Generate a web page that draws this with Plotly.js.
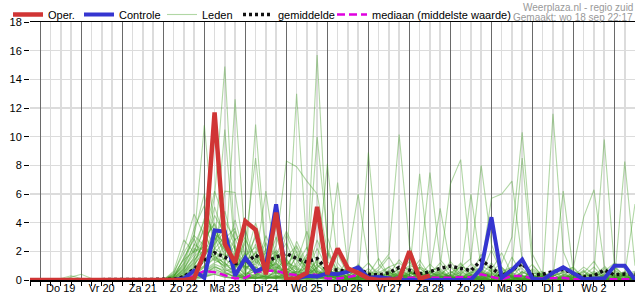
<!DOCTYPE html>
<html>
<head>
<meta charset="utf-8">
<script src="https://cdn.plot.ly/plotly-3.0.1.min.js"></script>
<style>
html,body{margin:0;padding:0;background:#fff;}
#chart{width:635px;height:300px;}
</style>
</head>
<body>
<div id="chart"></div>
<script>
// ---- time axis (6-hourly steps starting 18 Sep 18:00) ----
var startTime = '2024-09-18T18:00:00';
var stepHours = 6;
var nSteps = 60;
var xRange = ['2024-09-18 18:00', '2024-10-03 12:00'];
var dayStarts = ['2024-09-19','2024-09-20','2024-09-21','2024-09-22','2024-09-23','2024-09-24','2024-09-25',
  '2024-09-26','2024-09-27','2024-09-28','2024-09-29','2024-09-30','2024-10-01','2024-10-02','2024-10-03'];
var dayNoons = ['2024-09-19 12:00','2024-09-20 12:00','2024-09-21 12:00','2024-09-22 12:00','2024-09-23 12:00',
  '2024-09-24 12:00','2024-09-25 12:00','2024-09-26 12:00','2024-09-27 12:00','2024-09-28 12:00',
  '2024-09-29 12:00','2024-09-30 12:00','2024-10-01 12:00','2024-10-02 12:00'];
var dayLabels = ['Do 19','Vr 20','Za 21','Zo 22','Ma 23','Di 24','Wo 25','Do 26','Vr 27','Za 28','Zo 29','Ma 30','Di 1','Wo 2'];
var yTicks = [0,2,4,6,8,10,12,14,16,18];

// ---- series ----
var oper = [0,0,0,0,0,0,0,0,0,0, 0,0,0,0,0,0,0.1,1.9,11.7,2.5,
  1.2,4.1,3.5,0.4,4.7,0.05,0.1,0.5,5.1,0.4, 2.2,0.8,0.5,0.1,0,0,0.05,2.0,0.1,0.3];
var controle = [0,0,0,0,0,0,0,0,0,0, 0,0,0,0,0,0.1,0.65,0.15,3.46,3.38,
  0.3,1.55,0.6,0.9,5.28,0,0.1,0.3,0.25,0.46, 0.4,0.58,0.88,0.16,0.2,0.1,0,0,0,0,
  0,0,0,0,0.8,4.38,0.16,0.69,1.43,0.1, 0,0.5,0.88,0.46,0.05,0.1,0.1,0.99,1.0,0];
var gemiddelde = [0,0,0,0.02,0.03,0.02,0,0,0,0, 0,0,0,0,0.05,0.23,0.76,1.38,1.9,1.6,
  1.15,1.15,1.73,1.27,1.6,1.85,1.5,1.25,1.5,0.69, 0.69,0.6,0.85,0.4,0.35,0.5,0.88,0.69,0.42,0.58,
  0.81,0.97,0.78,0.65,1.38,0.88,0.25,0.69,1.15,0.35, 0.4,0.58,0.74,0.46,0.23,0.3,0.69,0.35,0.42,0.4];
var mediaan = [0,0,0,0,0,0,0,0,0,0, 0,0,0,0,0,0,0.3,0.62,0.55,0.35,
  0.1,0.15,0.55,0.65,0.65,0.42,0.35,0.45,0.35,0.1, 0.1,0.2,0.35,0.15,0.15,0.15,0.15,0.1,0.1,0.1,
  0.1,0.15,0.2,0.2,0.4,0.2,0.05,0.28,0.28,0.1, 0.1,0.15,0.15,0.05,0.05,0.05,0.05,0.05,0.05,0.05];

var lid01 = [0,0,0,0,0,0,0,0,0,0, 0,0,0,0,0.2,1.5,2.8,10.8,3.0,1.2, 0.4,0,0.3,1.1,0.2,0,0.5,0.1,0,0.3, 0.1,0,0,0.2,0.6,0,0,0.3,0.1,0, 0,0.4,1.2,0.3,0,0.2,0,0,0.6,0.1, 0,0,0.3,0.8,0.1,0,0,0.2,0,0];
var lid02 = [0,0,0,0.1,0.3,0.1,0,0,0,0, 0,0,0,0,0,0.4,1.0,2.2,5.8,14.9, 2.0,0.6,0.2,0,0.8,1.5,0.4,0,0.1,0, 0,0.3,0.9,0.2,0,0,0,0.1,0.5,0, 0,0,0.2,0,0.4,2.1,0.5,0,0,0.3, 0.1,0,0,0,0.5,1.3,0.2,0,0,0.1];
var lid03 = [0,0,0,0,0.2,0.4,0.1,0,0,0, 0,0,0,0,0.1,0.8,2.0,3.5,1.4,1.0, 12.6,2.4,0.5,0.3,1.8,0.6,0,0,0.2,0.9, 0.2,0,0,0.4,1.5,0.3,0,0,0.1,0.6, 0.2,0,0,0.3,0,0,0.8,0.1,0,0, 0,0.2,0.9,0.3,0,0,0.4,1.0,0.2,0];
var lid04 = [0,0,0,0,0,0,0,0,0,0, 0,0,0,0,0,0.2,0.6,1.3,2.5,10.5, 1.8,0.9,10.85,2.0,0.5,0.2,0.6,1.8,0.4,0, 0,0.1,0.6,0,0,0,0.2,0.9,0.3,0, 0,0.1,0,0,0.5,0.2,0,0.4,1.5,0.2, 0,0,0,0.1,0.6,0,0,0,0.3,0.5];
var lid05 = [0,0,0,0,0,0,0,0,0,0, 0,0,0,0,0.3,1.0,3.2,6.0,2.1,6.2, 6.1,1.5,3.0,1.2,0.4,0.9,13.0,2.2,0.6,0.3, 0.1,0,0.2,0.8,0.1,0,0,0,0.4,0.2, 0,0,0.3,0,0,0.1,0.6,0.2,0,0, 0.2,0,0,0.4,0.1,0,0,0,0,0.2];
var lid06 = [0,0,0,0,0,0,0,0,0,0, 0,0,0,0,0,0.2,0.5,1.0,1.8,0.6, 0.9,2.6,8.5,1.9,0.3,0.1,0.2,1.0,15.7,2.2, 0.5,0,0,0.3,0.2,0,0.1,0.6,0,0, 0.1,0.3,0,0,0.2,0.8,0.1,0,0,0.4, 0.6,0,0,0,0,0.3,0.9,0.2,0,0];
var lid07 = [0,0,0,0,0,0,0,0,0,0, 0,0,0,0,0,0.6,1.2,2.8,4.0,2.2, 1.5,0.8,1.4,6.2,1.2,0.4,0.3,0.6,10.0,3.0, 0.8,0.2,0,0,0.1,0.5,0.2,0,0,0, 0.6,0.2,0,0.1,0,0,0,0.5,0.3,0, 0,0,0.2,0,0,0,0.1,0.6,0.3,0];
var lid08 = [0,0,0,0,0,0,0,0,0,0, 0,0,0,0,0.1,0.3,0.8,1.5,3.2,2.6, 1.0,0.4,0.6,0.9,2.4,8.3,7.9,6.9,6.0,2.0, 0.6,0.2,0.1,0,0,0,0.4,0.2,0,0, 0,0.2,0.7,0.1,0,0,0.3,0,0,0, 0.1,0.4,0,0,0,0.2,0,0,0,0.3];
var lid09 = [0,0,0,0,0,0,0,0,0,0, 0,0,0,0,0,0.1,0.4,1.0,2.2,3.0, 1.1,0.3,0.9,0.5,1.6,0.8,0.4,0.2,0.9,8.1, 1.2,0.3,0,0,0,0.2,0.8,0.3,0,0.1, 0,0,0,0.4,0.1,0,0,0,0.2,0.6, 0.1,11.6,2.0,0.3,0,0,0,0.1,0.4,0];
var lid10 = [0,0,0,0,0,0,0,0,0,0, 0,0,0,0,0,0,0.3,0.9,1.6,1.2, 0.5,0.2,1.3,0.6,0.2,1.0,2.0,0.8,0.3,1.1, 6.8,1.0,0.3,0,0,0.1,0,0,0.5,0.2, 0,0,0.2,0,0.1,0.5,0,0.1,0,0, 0.3,0,0,0.1,0.2,0.5,9.8,0.9,0,0];
var lid11 = [0,0,0,0,0,0,0,0,0,0, 0,0,0,0,0,0.2,0.6,1.4,2.0,1.0, 0.7,0.2,0.4,0.2,0.6,0.3,1.2,3.4,1.0,0.5, 0.3,1.5,6.0,1.2,0.2,0,0,0,0.1,0, 0.2,0,0,0.6,0.3,0,0,0.4,0.1,0, 0,0,0,0.2,0.7,0.1,0,0,8.26,1.0];
var lid12 = [0,0,0,0,0,0,0,0,0,0, 0,0,0,0,0,0.1,0.2,0.6,1.1,0.8, 0.3,0.1,0.2,0.9,0.6,0.1,0,0.2,0.6,0.3, 0.2,0.3,0.1,8.9,1.1,0.3,0,0,0,0.2, 0,0.1,0,0,0.2,0.3,0,0,0,0.3, 0,0.2,0,0,0,0.1,0,0,0.4,5.3];
var lid13 = [0,0,0,0,0,0,0,0,0,0, 0,0,0,0,0,0,0.1,0.4,0.9,0.6, 0.2,0.5,0.3,0.1,0.2,0.4,0.3,0.1,0.2,0.4, 0.1,0,0.2,0.3,0.9,1.8,10.15,2.4,0.3,0.1, 0,0,0.1,0,0,0,0.3,0.2,0,0, 0,0,0.2,0.3,0,0,0,0.1,0,0];
var lid14 = [0,0,0,0,0,0,0,0,0,0, 0,0,0,0,0,0.1,0.3,0.7,1.2,1.5, 0.8,0.2,0.1,0.4,0.3,0.2,0.8,0.5,0.2,0.1, 0.3,0.1,0,0.2,0.5,0.9,1.2,0.6,7.4,0.8, 0.3,0,0,0.2,0.6,0.1,0,0,0,0.2, 0.5,0,0,0,0.2,0,0,0.1,0.3,0];
var lid15 = [0,0,0,0,0,0,0,0,0,0, 0,0,0,0,0,0.1,0.2,0.5,0.8,0.4, 0.6,1.0,0.5,0.2,0.1,0.3,0.6,0.2,0.4,0.2, 0.1,0.2,0.4,0.1,0,0.2,0.5,1.0,0.8,7.5, 1.4,0.6,0.2,0,0,0,0.1,0.3,0,0, 0,0,0.4,0,0,0,0.2,0,0,0.1];
var lid16 = [0,0,0,0,0,0,0,0,0,0, 0,0,0,0,0,0.2,0.4,0.9,1.5,0.9, 0.4,0.2,0.7,0.3,0.2,0.1,0.2,0.6,0.3,0.5, 0.2,0.1,0,0,0.1,0.3,0.2,0.4,0.9,0.6, 5.0,1.0,0.3,6.0,0.8,0.3,0.2,0,0.1,0, 0,0.3,0.6,0,0,0.1,0,0,0,0];
var lid17 = [0,0,0,0,0,0,0,0,0,0, 0,0,0,0,0,0,0.2,0.6,1.0,0.5, 0.2,0.4,0.1,0.2,0.5,0.3,0.1,0,0.1,0.3, 0.2,0,0.1,0.4,0.2,0.1,0.3,0.5,0.2,0.6, 0.9,6.7,8.4,1.2,0.5,0.2,0.1,0.3,0.1,0, 0,0,0,0.4,0.2,0,0.3,0,0,0];
var lid18 = [0,0,0,0,0,0,0,0,0,0, 0,0,0,0,0,0.1,0.3,0.5,0.9,0.7, 0.5,0.1,0.3,0.2,0.1,0.6,0.4,0.2,0.3,0.1, 0.4,0.2,0.3,0.1,0,0.2,0.1,0.4,0.6,0.3, 0.2,0.5,0.9,1.5,8.0,2.5,0.6,0.3,0,0.1, 0,0,0.2,0,0.1,0,0,0.3,0.5,0];
var lid19 = [0,0,0,0,0,0,0,0,0,0, 0,0,0,0,0,0,0.1,0.3,0.6,0.4, 0.3,0.2,0.1,0.3,0.2,0.4,0.1,0.3,0.2,0.1, 0,0.1,0.2,0,0.1,0.3,0.2,0,0.1,0.3, 0.4,0.2,0.1,0.5,0.9,5.7,6.0,6.9,1.4,0.3, 0.2,0,0,0.2,0,0.1,0.3,0,0,0.2];
var lid20 = [0,0,0,0,0,0,0,0,0,0, 0,0,0,0,0,0.1,0.2,0.4,0.7,0.5, 0.2,0.1,0.4,0.2,0.1,0.2,0.3,0.1,0.2,0.4, 0.2,0,0.1,0.2,0.3,0.1,0,0.2,0.3,0.1, 0.2,0.3,0.1,0,0.3,0.6,1.2,3.0,10.3,1.8, 0.4,0.1,0,0,0.2,0,0,0,0.1,0];
var lid21 = [0,0,0,0,0,0,0,0,0,0, 0,0,0,0,0,0,0.1,0.2,0.5,0.3, 0.1,0.3,0.2,0.1,0.3,0.2,0.1,0.2,0.1,0.2, 0.1,0.2,0,0.1,0.2,0,0.1,0.2,0.1,0.4, 0.1,0,0.2,0.3,0.1,0.2,0.4,0.9,8.5,1.0, 0.3,0.2,6.2,0.5,0.1,0,0,0.2,0,0];
var lid22 = [0,0,0,0,0,0,0,0,0,0, 0,0,0,0,0,0,0,0.2,0.4,0.2, 0.1,0.2,0.1,0.3,0.1,0,0.2,0.1,0.3,0.1, 0,0.1,0.2,0.1,0,0.1,0.2,0,0.1,0.2, 0.3,0.1,0,0.2,0.1,0,0.2,0.1,0.3,0.2, 0.1,0.3,0.5,0.9,4.4,6.3,1.0,0.2,0.1,0];
var lid23 = [0,0,0,0,0,0,0,0,0,0, 0,0,0,0,0,0,0.1,0.3,0.4,0.2, 0.1,0,0.2,0.1,0.2,0.1,0,0.1,0.2,0, 0.1,0,0.1,0.2,0.1,0,0.3,0.1,0,0.2, 0.1,0.3,0.2,0,0.1,0.3,0,0.2,0.1,0.5, 0.2,0,0.1,0.3,0.2,0.4,0.6,1.2,0.8,0.3];
var lid24 = [0,0,0,0,0,0,0,0,0,0, 0,0,0,0,0.1,0.5,1.6,2.4,4.5,3.2, 2.2,1.1,2.5,0.8,3.0,1.2,0.9,0.5,2.8,1.0, 0.5,0.8,0.3,0.1,0,0.4,1.4,0.6,0.2,0, 0.4,0.9,0.2,0,1.0,0.6,0.1,1.6,0.3,0.1, 0,0.6,0.9,0.1,0,0,0.5,0.3,0.6,0.2];
var lid25 = [0,0,0,0,0,0,0,0,0,0, 0,0,0,0,0,0.3,0.9,3.0,6.2,4.1, 2.8,3.5,1.2,2.6,0.7,1.6,2.4,1.0,0.4,0.6, 1.8,0.4,0,0,0.3,0.9,0.2,0,0.8,0.3, 0,0,1.1,0.4,0.2,0,0.9,0.2,0,0.7, 0.2,0,0,0.6,0.3,0,0,0.7,0.2,0];
var lid26 = [0,0,0,0,0,0,0,0,0,0, 0,0,0,0,0.2,0.7,2.2,1.8,3.6,2.0, 3.4,1.4,4.0,1.5,2.0,0.6,0.2,1.5,0.8,0.2, 0.6,0.2,0.5,0,0.1,0.6,0,0.4,1.1,0.1, 0.5,0.2,0,0.8,0.4,0.2,0,0.5,1.2,0, 0.2,0,0.2,0,0.3,0.9,0.1,0,0.4,0.6];
var lid27 = [0,0,0,0,0,0,0,0,0,0, 0,0,0,0,0.4,2.2,4.6,3.1,2.0,1.4, 2.9,1.2,0.6,2.2,1.0,0.3,1.8,0.7,0.2,0.5, 0.2,0.9,0.3,0,0,0.6,0.2,0,0.3,1.1, 0.4,0,0,0.3,1.8,0.5,0,0,0.6,0.2, 0,0,0.4,0.2,0,0,0.8,0.3,0,0];
var lid28 = [0,0,0,0,0,0,0,0,0,0, 0,0,0,0,0.2,1.2,3.6,5.2,2.8,3.6, 1.2,2.8,1.6,0.5,1.3,2.6,0.8,0.3,1.5,0.4, 0.3,0,0.5,1.2,0.4,0,0,0.2,0.9,0.1, 0,0.6,0.2,0,0,0.7,1.9,0.4,0,0, 0.5,0.2,0,0,0,0.4,0,0,0.2,0.1];
var lid29 = [0,0,0,0,0,0,0,0,0,0, 0,0,0,0,0.6,2.8,1.9,4.3,3.5,2.4, 0.8,1.7,2.3,0.9,3.8,1.1,0.5,0.9,0.3,0.6, 0.5,0.2,0,0.3,0.7,1.6,0.4,0,0,0.2, 0.8,0.2,0,0.3,0.5,0,0,0.2,1.0,0.3, 0,0,0.6,0.9,0.1,0,0,0,0.5,0.2];
var lid30 = [0,0,0,0,0,0,0,0,0,0, 0,0,0,0.1,0.3,0.9,2.5,2.0,5.1,2.9, 3.6,0.9,1.1,1.9,0.6,3.2,1.4,0.5,0.8,1.9, 0.4,0.1,1.1,0.3,0,0,0.5,1.3,0.2,0, 0,0.3,0.9,0.2,0,0,0.4,0.2,0,0.8, 0.3,0,0,0,0.4,0.2,0,0.9,0.3,0];
var lid31 = [0,0,0,0,0,0,0,0,0,0, 0,0,0,0,0.2,1.6,2.9,1.2,2.6,4.8, 2.1,0.6,3.3,1.4,0.9,0.4,2.7,1.2,0.5,0.2, 0.9,0.4,0.1,0,0.4,0.3,0,0.6,0.2,0.4, 1.2,0.3,0,0,0.2,0.5,0.9,0.1,0,0, 0.2,0.7,0.1,0,0,0,0.3,0.2,0,0.4];
var lid32 = [0,0,0,0,0,0,0,0,0,0, 0,0,0,0,0.1,0.7,1.5,3.8,2.2,1.7, 4.2,1.6,0.8,3.1,1.4,0.7,1.0,2.3,0.6,0.3, 0.1,0.6,0.2,0.1,0,0.3,0.8,0.2,0,0.5, 0.3,0,0.4,1.1,0.3,0,0,0.6,0.8,0.1, 0,0,0,0.3,0.9,0.4,0,0,0,0.2];
var lid33 = [0,0,0,0,0,0,0,0,0,0, 0,0,0,0,0.5,1.9,3.1,2.4,1.6,0.9, 1.9,3.0,0.7,0.4,2.1,1.3,0.3,0.6,2.2,0.8, 0.2,0,0.3,0.5,0.1,0,0.2,0.4,1.4,0.3, 0.1,0,0.6,0.2,0,0.3,0,0,0.4,1.1, 0.2,0,0.3,0,0,0.2,0.6,0.1,0,0];
var lid34 = [0,0,0,0,0,0,0,0,0,0, 0,0,0,0,0.3,1.1,2.4,4.1,3.3,1.8, 1.4,0.5,2.0,0.8,1.7,3.4,1.9,0.4,0.7,0.2, 0.6,0.2,0,0,0.2,0.7,0.3,0,0.1,0.6, 0.2,1.3,0.4,0,0.1,0,0.5,0.3,0,0, 0,0.4,0,0.2,0.6,0,0,0.3,0.1,0];
var lid35 = [0,0,0,0,0,0,0,0,0,0, 0,0,0,0,0,0.4,1.3,2.6,1.9,2.7, 0.9,1.9,0.4,1.1,0.5,0.9,2.3,0.6,1.3,0.4, 0.2,0.3,0.8,0.2,0,0.1,0,0.5,0.3,0, 0.5,0.2,0,0,0.3,1.2,0.2,0,0.2,0, 0.1,0,0.2,0.5,0,0,0.1,0.4,0.2,0.3];
var lid36 = [0,0,0,0,0,0,0,0,0,0, 0,0,0,0,0.2,0.8,1.8,2.9,3.9,1.5, 2.4,0.7,1.5,0.6,1.2,0.5,0.9,1.6,0.4,0.7, 0.3,0.1,0.2,0.6,0.3,0,0.2,0.7,0.1,0.2, 0,0.4,0.2,0.5,0.7,0.2,0,0,0.3,0.1, 0.4,0.1,0,0,0.3,0.6,0.2,0,0,0];
var lid37 = [0,0,0,0,0,0,0,0,0,0, 0,0,0,0,0.1,0.5,1.1,1.9,2.5,3.4, 1.6,0.9,0.5,1.3,0.6,1.4,0.7,0.3,0.9,1.3, 0.5,0.7,0.2,0,0.2,0.5,0.3,0.2,0,0.3, 0.6,0.1,0.3,0,0,0.4,0.6,0.9,0.2,0, 0,0.3,0.5,0,0,0,0,0.5,0.3,0.1];
var lid38 = [0,0,0,0,0,0,0,0,0,0, 0,0,0,0,0,0.3,0.9,1.6,3.0,2.1, 1.3,0.4,0.9,0.5,1.9,0.8,0.4,1.2,0.5,0.2, 0.4,0.9,0.3,0.1,0,0.2,0.6,0.1,0.4,0.2, 0.3,0.1,0,0.4,0.6,0.2,0.1,0,0.5,0.4, 0,0,0.3,0.1,0,0.5,0.2,0,0.1,0.2];
var lid39 = [0,0,0,0,0,0,0,0,0,0, 0,0,0,0,0.4,1.4,2.0,2.3,1.3,2.5, 1.0,1.3,1.9,0.7,0.9,0.6,1.6,0.9,0.3,0.6, 0.3,0.2,0.6,0.4,0.1,0.4,0.2,0.3,0.6,0.1, 0.7,0.2,0.1,0.3,0.2,0,0.3,0.5,0.1,0.3, 0.2,0,0.1,0.4,0.2,0,0.4,0.2,0,0];
var lid40 = [0,0,0,0,0,0,0,0,0,0, 0,0,0,0,0.2,0.6,1.4,2.1,1.7,1.1, 0.9,1.5,0.6,0.9,1.1,0.4,0.6,0.4,1.1,0.3, 0.1,0.4,0.2,0.3,0.2,0.1,0.4,0.2,0.3,0.5, 0.2,0.3,0.5,0.1,0.3,0.4,0.2,0.3,0,0.2, 0.3,0.2,0,0.2,0.1,0.3,0,0.2,0.4,0.1];
var leden = [lid01,lid02,lid03,lid04,lid05,lid06,lid07,lid08,lid09,lid10,lid11,lid12,lid13,lid14,
  lid15,lid16,lid17,lid18,lid19,lid20,lid21,lid22,lid23,lid24,lid25,lid26,lid27,lid28,lid29,lid30,
  lid31,lid32,lid33,lid34,lid35,lid36,lid37,lid38,lid39,lid40];

// ---- build x values ----
function pad(n){return (n<10?'0':'')+n;}
var t0 = Date.parse(startTime + 'Z');
var times = [];
for (var i = 0; i < nSteps; i++) {
  var d = new Date(t0 + i*stepHours*3600000);
  times.push(d.getUTCFullYear()+'-'+pad(d.getUTCMonth()+1)+'-'+pad(d.getUTCDate())+' '+pad(d.getUTCHours())+':00');
}

var FONT = '"Liberation Sans", Arial, sans-serif';
var traces = [];
leden.forEach(function(m, k){
  traces.push({x: times.slice(0, m.length), y: m, type:'scatter', mode:'lines', name:'Leden',
    legendgroup:'leden', showlegend: k === 0, legend:'legend3',
    line:{color:'rgba(60,155,30,0.4)', width:1.1}, hoverinfo:'skip'});
});
traces.push({x: times.slice(0, mediaan.length), y: mediaan, type:'scatter', mode:'lines',
  name:'mediaan (middelste waarde)', legend:'legend5',
  line:{color:'#e000e0', width:2.5, dash:'8px,4px'}});
traces.push({x: times.slice(0, gemiddelde.length), y: gemiddelde, type:'scatter', mode:'lines',
  name:'gemiddelde', legend:'legend4',
  line:{color:'#111', width:3.5, dash:'3px,3px'}});
traces.push({x: times.slice(0, controle.length), y: controle, type:'scatter', mode:'lines',
  name:'Controle', legend:'legend2',
  line:{color:'#3535d0', width:4}});
traces.push({x: times.slice(0, oper.length), y: oper, type:'scatter', mode:'lines',
  name:'Oper.', legend:'legend',
  line:{color:'#d03535', width:4.5}});
traces.push({x:[], y:[], xaxis:'x2', showlegend:false, hoverinfo:'skip', type:'scatter'});
traces.push({x:[], y:[], xaxis:'x3', showlegend:false, hoverinfo:'skip', type:'scatter'});

function legendAt(px){
  return {orientation:'h', x:(px-30)/605, xanchor:'left', y:(280-12)/260, yanchor:'middle',
    bgcolor:'rgba(0,0,0,0)', borderwidth:0, font:{family:FONT, size:11, color:'#000'}};
}

var layout = {
  width:635, height:300,
  margin:{l:30, r:0, t:20, b:20},
  paper_bgcolor:'#fff', plot_bgcolor:'#fff',
  font:{family:FONT, size:11, color:'#000'},
  showlegend:true,
  legend: legendAt(8),
  legend2: legendAt(79),
  legend3: legendAt(162),
  legend4: legendAt(238),
  legend5: legendAt(332),
  xaxis:{type:'date', range:xRange, tickmode:'linear', tick0:startTime.replace('T',' '), dtick:stepHours*3600000,
    showgrid:true, gridcolor:'#dcdcdc', gridwidth:1.5, ticks:'outside', ticklen:4, tickcolor:'#000', tickwidth:1,
    showticklabels:false, showline:true, linecolor:'#000', linewidth:1.5, zeroline:false, fixedrange:true},
  xaxis2:{type:'date', overlaying:'x', anchor:'y', side:'top', range:xRange, tickmode:'array',
    tickvals:dayStarts, ticktext:dayStarts.map(function(){return '';}),
    showgrid:true, gridcolor:'#6a6a6a', gridwidth:1.2, ticks:'', showticklabels:false,
    showline:true, linecolor:'#000', linewidth:1.5, zeroline:false, fixedrange:true},
  xaxis3:{type:'date', overlaying:'x', anchor:'y', side:'bottom', range:xRange, tickmode:'array',
    tickvals:dayNoons, ticktext:dayLabels, showgrid:false, ticks:'', showline:false, zeroline:false,
    tickfont:{family:FONT, size:11, color:'#000'}, fixedrange:true},
  yaxis:{range:[0,18], tickmode:'array', tickvals:yTicks, ticktext:yTicks.map(String),
    showgrid:true, gridcolor:'#dcdcdc', gridwidth:1.5, zeroline:false, showline:false,
    ticks:'outside', ticklen:5, tickcolor:'#000', tickfont:{family:FONT, size:11, color:'#000'}, fixedrange:true},
  annotations:[
    {text:'Weerplaza.nl - regio zuid', xref:'paper', yref:'paper', x:1, y:(280-5)/260,
      xanchor:'right', yanchor:'middle', showarrow:false, font:{family:FONT, size:10, color:'#999'}},
    {text:'Gemaakt: wo 18 sep 22:17', xref:'paper', yref:'paper', x:1, y:(280-15)/260,
      xanchor:'right', yanchor:'middle', showarrow:false, font:{family:FONT, size:10, color:'#999'}}
  ]
};

Plotly.newPlot('chart', traces, layout, {staticPlot:true, displayModeBar:false});
</script>
</body>
</html>
